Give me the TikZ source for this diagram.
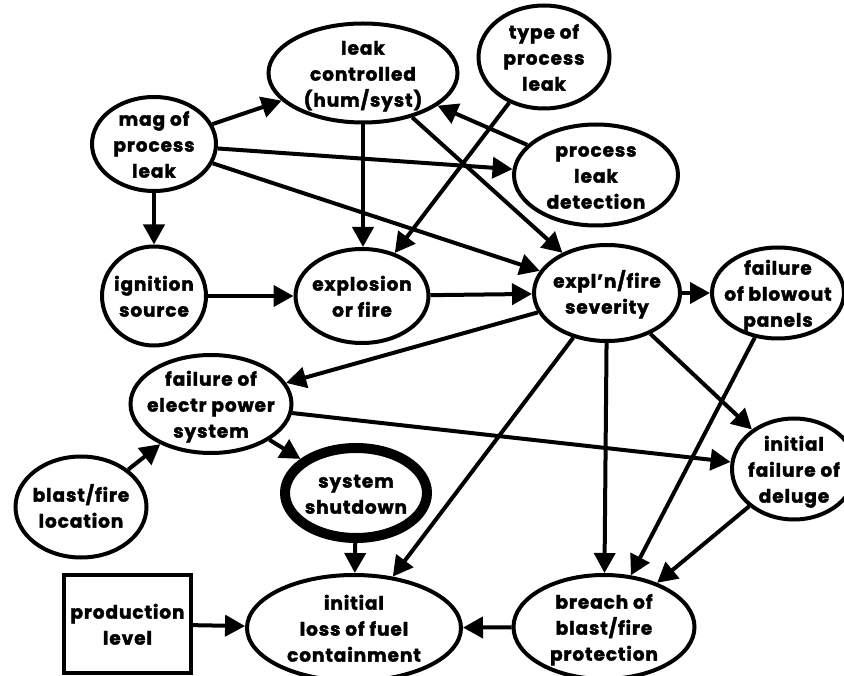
\documentclass[tikz,border=0pt]{standalone}
\usepackage{fontspec}
\setmainfont{Poppins}[BoldFeatures={FakeBold=2,LetterSpace=5}]
\usetikzlibrary{shapes.geometric,arrows.meta}
% label text that never enlarges the shape around it
\newcommand{\lbl}[1]{\raisebox{-13.5pt}{\makebox[0pt]{\smash{\begin{tabular}{@{}c@{}}#1\end{tabular}}}}}
\begin{document}
\begin{tikzpicture}[x=1pt,y=-1pt,
  every node/.style={font=\bfseries\fontsize{18.5}{26}\selectfont},
  oval/.style={ellipse, draw, line width=4pt, inner sep=0pt},
  heavy/.style={oval, line width=10pt},
  box/.style={rectangle, draw, line width=4pt, inner sep=0pt},
  link/.style={line width=4pt, -{Triangle[length=20pt,width=21pt]}}]
\useasboundingbox (0,0) rectangle (844,676);

% variables
\node[oval, minimum width=124, minimum height=94] (mag) at (154,144) {\lbl{mag of\\process\\leak}};
\node[oval, minimum width=189, minimum height=99] (lc) at (363,73) {\lbl{leak\\controlled\\(hum/syst)}};
\node[oval, minimum width=131, minimum height=103] (type) at (544,57) {\lbl{type of\\process\\leak}};
\node[oval, minimum width=164, minimum height=101] (det) at (596,175) {\lbl{process\\leak\\detection}};
\node[oval, minimum width=104, minimum height=99] (ign) at (154,296) {\lbl{ignition\\source}};
\node[oval, minimum width=133, minimum height=94] (expl) at (362,296) {\lbl{explosion\\or fire}};
\node[oval, minimum width=146, minimum height=96] (sev) at (607,293) {\lbl{expl'n/fire\\severity}};
\node[oval, minimum width=132, minimum height=91] (blow) at (778,293) {\lbl{failure\\of blowout\\panels}};
\node[oval, minimum width=161, minimum height=98] (elec) at (211,404) {\lbl{failure of\\electr power\\system}};
\node[oval, minimum width=131, minimum height=101] (loc) at (81,507) {\lbl{blast/fire\\location}};
\node[heavy, minimum width=142, minimum height=90] (shut) at (356,493) {\lbl{system\\shutdown}};
\node[oval, minimum width=124, minimum height=101] (del) at (794,469) {\lbl{initial\\failure of\\deluge}};
\node[oval, minimum width=214, minimum height=106] (loss) at (354,628) {\lbl{initial\\loss of fuel\\containment}};
\node[oval, minimum width=181, minimum height=104] (breach) at (604,627) {\lbl{breach of\\blast/fire\\protection}};
\node[box, minimum width=127, minimum height=98] (prod) at (127.5,624) {\lbl{production\\level}};

% influences
\draw[link] (mag) -- (lc);
\draw[link] (mag) -- (det);
\draw[link] (mag) -- (sev);
\draw[link] (mag) -- (ign);
\draw[link] (lc.south) -- (lc.south |- expl.north);
\draw[link] (lc) -- (sev);
\draw[link] (det) -- (lc);
\draw[link] (type) -- (expl);
\draw[link] (ign) -- (expl);
\draw[link] (expl) -- (sev);
\draw[link] (sev) -- (blow);
\draw[link] (sev) -- (elec);
\draw[link] (sev) -- (loss);
\draw[link] (sev) -- (breach);
\draw[link] (sev) -- (del);
\draw[link] (blow) -- (breach);
\draw[link] (elec) -- (shut);
\draw[link] (elec) -- (del);
\draw[link] (loc) -- (elec);
\draw[link] (shut) -- (loss);
\draw[link] (del) -- (breach);
\draw[link] (breach) -- (loss);
\draw[link] (prod) -- (loss);
\end{tikzpicture}
\end{document}
